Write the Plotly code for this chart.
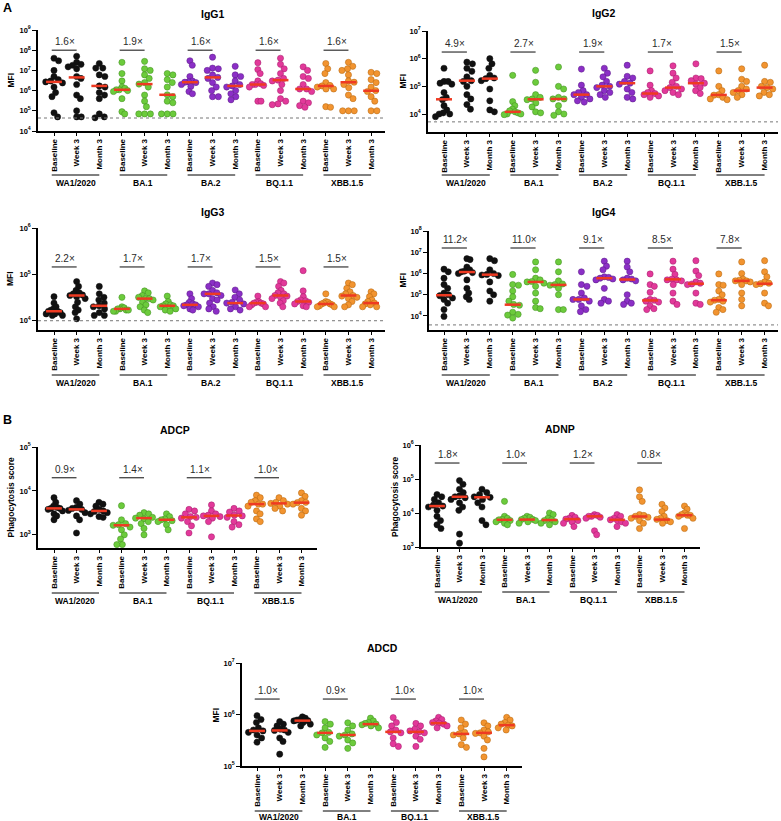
import numpy as np
import plotly.graph_objects as go

W, H = 781, 821
FONT = "Arial, Liberation Sans, Helvetica, sans-serif"

# ---------------- labels ----------------
TIMEPOINTS = ["Baseline", "Week 3", "Month 3"]
IGG_VARIANTS = ["WA1/2020", "BA.1", "BA.2", "BQ.1.1", "XBB.1.5"]
FUNC_VARIANTS = ["WA1/2020", "BA.1", "BQ.1.1", "XBB.1.5"]
IGG_COLORS = ["#111111", "#6CCB3C", "#8B2FC6", "#E2399A", "#F29430"]
IGG_EDGES = ["#111111", "#3F8A1E", "#5A1A85", "#A21F6B", "#B0640F"]
FUNC_COLORS = ["#111111", "#6CCB3C", "#E2399A", "#F29430"]
FUNC_EDGES = ["#111111", "#3F8A1E", "#A21F6B", "#B0640F"]

# ---------------- IgG1 (MFI) [baseline, week3, month3] ----------------
IGG1_WA1 = [[4e7, 3e7, 1e7, 5e6, 3.5e6, 3e6, 2.7e6, 2.4e6, 1.5e6, 8e5, 5e5, 8e4, 5e4],
            [5e7, 2.5e7, 2e7, 1.8e7, 1.5e7, 1.2e7, 5e6, 4e6, 2e6, 6e5, 4e5, 1e5, 5e4, 5e4],
            [2.2e7, 1.3e7, 1.3e7, 6e6, 5e6, 1.7e6, 1.5e6, 8e5, 6e5, 4e5, 7e4, 5e4, 4.5e4]]
IGG1_BA1 = [[2.5e7, 7e6, 3e6, 1.5e6, 1.3e6, 1.1e6, 1.1e6, 1e6, 9e5, 4e5, 9e4, 7e4],
            [2.8e7, 1.2e7, 1e7, 6e6, 4e6, 2.5e6, 2.1e6, 1.5e6, 6e5, 3e5, 1.6e5, 7e4, 7e4, 7e4],
            [7e6, 6e6, 3.5e6, 2.5e6, 1.5e6, 6.2e5, 5e5, 3e5, 2.5e5, 7e4, 7e4, 7e4]]
IGG1_BA2 = [[3e7, 1.8e7, 5e6, 3e6, 2.7e6, 2.6e6, 2.5e6, 2e6, 1.6e6, 9e5, 7e5],
            [4.5e7, 1.3e7, 1.2e7, 1e7, 6e6, 4.5e6, 4e6, 2.5e6, 1.5e6, 1e6, 5e5, 5e5],
            [1.6e7, 6e6, 5e6, 3e6, 2e6, 1.7e6, 1.5e6, 1e6, 7e5, 5e5, 3.5e5]]
IGG1_BQ = [[2.4e7, 1.1e7, 7e6, 3e6, 2.2e6, 2e6, 2e6, 1.8e6, 1.5e6, 3e5, 3e5],
           [4e7, 2e7, 1.2e7, 7e6, 4e6, 3.3e6, 3e6, 2e6, 1e6, 4e5, 3e5, 2.2e5, 2e5],
           [1.5e7, 1e7, 5e6, 4e6, 2e6, 1.2e6, 1.2e6, 9e5, 3e5, 2.5e5, 1.8e5, 1.5e5]]
IGG1_XBB = [[2.2e7, 1.2e7, 7e6, 2.5e6, 1.8e6, 1.7e6, 1.5e6, 1.2e6, 1.2e6, 1.6e5, 1.5e5],
            [2.5e7, 1.6e7, 1.2e7, 1e7, 6e6, 3e6, 2.6e6, 2e6, 1.4e6, 6e5, 4e5, 1e5, 1e5, 1e5],
            [8e6, 7e6, 3.5e6, 2.5e6, 1.5e6, 1e6, 9e5, 5e5, 3e5, 1e5, 1e5]]
IGG1_MEDIANS = [[2.7e6, 4.5e6, 1.7e6], [1.1e6, 2.1e6, 6.2e5], [2.6e6, 4.5e6, 1.7e6],
                [2e6, 3.3e6, 1.2e6], [1.7e6, 2.6e6, 9.8e5]]
IGG1_FOLD = ["1.6×", "1.9×", "1.6×", "1.6×", "1.6×"]

# ---------------- IgG2 ----------------
IGG2_WA1 = [[4.5e5, 1.5e5, 1.5e5, 1.3e5, 1.2e5, 6e4, 4e4, 3.3e4, 2e4, 1.4e4, 1.1e4, 1e4, 1e4, 8e3],
            [7.5e5, 6.5e5, 4.5e5, 3.5e5, 2.2e5, 1.6e5, 1.5e5, 1e5, 5e4, 3.5e4, 2.2e4, 1.5e4],
            [1e6, 6.5e5, 4.5e5, 2.5e5, 2e5, 1.9e5, 1.6e5, 8e4, 3e4, 1.4e4, 1.2e4]]
IGG2_BA1 = [[2.5e5, 2.8e4, 2e4, 1.5e4, 1.3e4, 1.2e4, 1.1e4, 1e4, 1e4, 9.5e3],
            [3.8e5, 1.4e5, 5e4, 4e4, 3.5e4, 3.3e4, 2.5e4, 1.8e4, 1.2e4, 1.1e4],
            [5e5, 1e5, 8e4, 4e4, 3.5e4, 3.5e4, 2e4, 1.2e4, 1e4, 9e3]]
IGG2_BA2 = [[4.2e5, 1.1e5, 7e4, 6e4, 5e4, 5e4, 4e4, 3.5e4, 3e4, 2.7e4],
            [4.5e5, 3e5, 2.2e5, 1.5e5, 1.1e5, 1e5, 9e4, 7e4, 6e4, 5e4, 4e4],
            [5.8e5, 2.3e5, 2e5, 1.5e5, 1.3e5, 1.2e5, 8e4, 6e4, 4e4, 3.5e4]]
IGG2_BQ = [[3.6e5, 1.1e5, 7e4, 6e4, 5.5e4, 5e4, 4.5e4, 4e4],
           [5.5e5, 3e5, 2e5, 1.4e5, 1e5, 9e4, 8e4, 7e4, 6e4, 5e4],
           [6.5e5, 2e5, 1.9e5, 1.6e5, 1.3e5, 1.2e5, 9e4, 7e4, 5.5e4]]
IGG2_XBB = [[3.6e5, 1e5, 7e4, 5e4, 4.8e4, 4e4, 3.5e4, 3.3e4],
            [4.3e5, 1.8e5, 1.5e5, 1e5, 8e4, 7e4, 6e4, 5e4, 4e4],
            [5.8e5, 1.5e5, 1.4e5, 1e5, 9e4, 8e4, 6e4, 5e4, 4.5e4]]
IGG2_MEDIANS = [[3.4e4, 1.6e5, 1.9e5], [1.2e4, 3.4e4, 3.5e4], [5e4, 1e5, 1.3e5],
                [5.5e4, 9e4, 1.3e5], [4.9e4, 7e4, 9e4]]
IGG2_FOLD = ["4.9×", "2.7×", "1.9×", "1.7×", "1.5×"]

# ---------------- IgG3 ----------------
IGG3_WA1 = [[3.3e4, 2.4e4, 2e4, 1.8e4, 1.7e4, 1.6e4, 1.6e4, 1.5e4, 1.4e4, 1.4e4, 1.3e4, 1.3e4],
            [7e4, 5.5e4, 4.5e4, 4e4, 3.8e4, 3.6e4, 3.5e4, 3.3e4, 3e4, 2.5e4, 2e4, 1.7e4, 1.5e4, 1.1e4],
            [5.5e4, 3.8e4, 3.2e4, 2.8e4, 2.4e4, 2.1e4, 2e4, 1.8e4, 1.5e4, 1.3e4, 1.3e4]]
IGG3_BA1 = [[3.2e4, 2e4, 1.9e4, 1.8e4, 1.8e4, 1.7e4, 1.7e4, 1.6e4, 1.6e4],
            [4.4e4, 4e4, 3.5e4, 3.2e4, 3e4, 3e4, 2.8e4, 2.5e4, 2.2e4, 2e4, 1.7e4, 1.5e4],
            [3.4e4, 2.6e4, 2.3e4, 2.2e4, 2.1e4, 2.1e4, 2e4, 1.9e4, 1.8e4, 1.7e4, 1.6e4]]
IGG3_BA2 = [[3.8e4, 3e4, 2.5e4, 2.3e4, 2.2e4, 2.2e4, 2.1e4, 2e4, 1.8e4, 1.7e4],
            [6.5e4, 6e4, 5.5e4, 4.5e4, 4e4, 3.8e4, 3.8e4, 3.5e4, 3e4, 2.8e4, 2.4e4, 2e4, 1.8e4, 1.6e4],
            [4.6e4, 3.8e4, 3.2e4, 2.8e4, 2.5e4, 2.4e4, 2.3e4, 2e4, 1.8e4, 1.7e4]]
IGG3_BQ = [[3.4e4, 2.6e4, 2.5e4, 2.4e4, 2.4e4, 2.3e4, 2.2e4, 2e4, 2e4],
           [7e4, 6.5e4, 5.5e4, 4.5e4, 4e4, 3.8e4, 3.5e4, 3.4e4, 3.2e4, 3e4, 2.7e4, 2.4e4, 2e4],
           [1.2e5, 4.4e4, 3.3e4, 2.8e4, 2.7e4, 2.6e4, 2.5e4, 2.3e4, 2.1e4, 2e4]]
IGG3_XBB = [[3.8e4, 2.6e4, 2.5e4, 2.4e4, 2.3e4, 2.3e4, 2.2e4, 2.1e4, 2e4, 2e4],
            [6.5e4, 6e4, 5e4, 4.2e4, 3.8e4, 3.5e4, 3.4e4, 3.2e4, 3e4, 2.6e4, 2.2e4, 2e4],
            [4.2e4, 3.8e4, 3.3e4, 2.8e4, 2.6e4, 2.4e4, 2.3e4, 2.2e4, 2e4, 2e4]]
IGG3_MEDIANS = [[1.6e4, 3.5e4, 2.1e4], [1.8e4, 3e4, 2.1e4], [2.2e4, 3.8e4, 2.4e4],
                [2.4e4, 3.5e4, 2.6e4], [2.3e4, 3.5e4, 2.4e4]]
IGG3_FOLD = ["2.2×", "1.7×", "1.7×", "1.5×", "1.5×"]

# ---------------- IgG4 ----------------
IGG4_WA1 = [[1.6e6, 1.2e6, 6e5, 3e5, 2e5, 1.2e5, 1e5, 9e4, 7e4, 6e4, 4e4, 2e4, 9.5e3],
            [5e6, 4.5e6, 2e6, 1.5e6, 1.3e6, 1.2e6, 1.1e6, 1e6, 5e5, 2e5, 1.2e5, 8e4, 6e4],
            [5e6, 4e6, 1.5e6, 1e6, 9e5, 8.5e5, 8e5, 4e5, 1.5e5, 1e5, 5e4]]
IGG4_BA1 = [[9e5, 3e5, 2.8e5, 1.5e5, 8e4, 5e4, 3.5e4, 3.2e4, 1.5e4, 1.2e4, 1.1e4, 8e3],
            [3.5e6, 1.5e6, 6e5, 5e5, 4.2e5, 4e5, 3.5e5, 2.5e5, 1.2e5, 5e4, 2.5e4, 2.2e4],
            [3.5e6, 1.2e6, 4.5e5, 3.2e5, 3e5, 2.8e5, 2e5, 1e5, 2e4, 2e4]]
IGG4_BA2 = [[1.2e6, 3e5, 2.5e5, 1.2e5, 7e4, 6e4, 6e4, 5e4, 3e4, 2e4, 1.6e4],
            [3.8e6, 2.2e6, 1.5e6, 7e5, 6.5e5, 6e5, 5.5e5, 5e5, 2e5, 6e4, 5e4, 4e4],
            [3.8e6, 2e6, 1.2e6, 6e5, 5.5e5, 5e5, 4.5e5, 1e5, 5e4, 4e4, 3.5e4]]
IGG4_BQ = [[9.5e5, 3e5, 2.5e5, 1.3e5, 6e4, 5.5e4, 5e4, 4.5e4, 3e4, 2.2e4, 2e4],
           [3.8e6, 1.6e6, 9e5, 5.5e5, 5e5, 5e5, 4.5e5, 3e5, 1.2e5, 5e4, 3.5e4],
           [4e6, 1.3e6, 8e5, 4e5, 3.5e5, 3.2e5, 3e5, 1.2e5, 4e4, 3.5e4]]
IGG4_XBB = [[9.5e5, 3e5, 2.8e5, 1.5e5, 1e5, 6e4, 5.5e4, 5e4, 4.5e4, 2.5e4, 2e4, 1.5e4],
            [3.5e6, 1e6, 5.5e5, 4.8e5, 4.5e5, 4.5e5, 4e5, 3e5, 1.2e5, 6e4, 3e4],
            [4e6, 1.2e6, 7e5, 4e5, 3.5e5, 3.3e5, 3e5, 1.2e5, 4e4, 3e4]]
IGG4_MEDIANS = [[9.5e4, 1.17e6, 8.8e5], [3.4e4, 4e5, 2.9e5], [6e4, 6e5, 5.2e5],
                [5.4e4, 5.3e5, 3.3e5], [5.5e4, 4.5e5, 3.3e5]]
IGG4_FOLD = ["11.2×", "11.0×", "9.1×", "8.5×", "7.8×"]

# ---------------- ADCP (phagocytosis score) ----------------
ADCP_WA1 = [[7e3, 5.5e3, 4.5e3, 4.2e3, 4e3, 4e3, 3.8e3, 3.5e3, 3e3, 2.7e3, 2.2e3],
            [6e3, 5e3, 4.2e3, 4e3, 3.8e3, 3.6e3, 3.2e3, 2.7e3, 2.2e3, 1.1e3],
            [5.5e3, 5e3, 4.5e3, 3.8e3, 3.5e3, 3.4e3, 3.2e3, 3e3, 2.6e3, 2.5e3]]
ADCP_BA1 = [[4.6e3, 2.2e3, 1.8e3, 1.7e3, 1.65e3, 1.5e3, 1.3e3, 1e3, 8e2, 6e2, 6e2],
            [3.2e3, 3e3, 2.8e3, 2.5e3, 2.4e3, 2.3e3, 2e3, 1.8e3, 1.4e3, 1e3],
            [3e3, 2.6e3, 2.3e3, 2.2e3, 2.1e3, 2e3, 1.7e3, 1.3e3]]
ADCP_BQ = [[3.8e3, 3.5e3, 3e3, 2.6e3, 2.5e3, 2.4e3, 2e3, 1.6e3, 1.1e3],
           [4.8e3, 3.5e3, 3e3, 2.8e3, 2.7e3, 2.6e3, 2.4e3, 2e3, 9e2],
           [4e3, 3.5e3, 3.3e3, 2.8e3, 2.7e3, 2.5e3, 2e3, 1.7e3, 1.5e3]]
ADCP_XBB = [[8e3, 7e3, 6e3, 5.5e3, 5e3, 5e3, 4.5e3, 3.5e3, 3e3, 2.3e3, 2e3],
            [7e3, 6e3, 5.5e3, 5.2e3, 5e3, 4.5e3, 4e3, 3.5e3],
            [9e3, 7.5e3, 6e3, 5.5e3, 5.4e3, 5e3, 4e3, 3.5e3, 2.8e3]]
ADCP_MEDIANS = [[4e3, 3.8e3, 3.5e3], [1.65e3, 2.4e3, 2.2e3], [2.5e3, 2.7e3, 2.75e3], [5e3, 5.2e3, 5.4e3]]
ADCP_FOLD = ["0.9×", "1.4×", "1.1×", "1.0×"]

# ---------------- ADNP ----------------
ADNP_WA1 = [[3.5e4, 3e4, 2.5e4, 2e4, 1.7e4, 1.6e4, 1.5e4, 1.2e4, 8e3, 6e3, 4.5e3, 3.5e3],
            [9e4, 7e4, 5e4, 4e4, 3.2e4, 3e4, 2.8e4, 2.5e4, 2e4, 1.5e4, 1.2e4, 2.4e3, 1.3e3],
            [5e4, 4e4, 3.5e4, 3e4, 2.9e4, 2.5e4, 2e4, 1.5e4, 6e3, 4.5e3]]
ADNP_BA1 = [[2.2e4, 8e3, 7e3, 6.5e3, 6.3e3, 6e3, 5.5e3, 5e3, 4.5e3],
            [8e3, 7.5e3, 7e3, 6.5e3, 6.4e3, 6e3, 5.5e3, 5e3],
            [1e4, 9e3, 7e3, 6.3e3, 6e3, 5.5e3, 5e3, 4.5e3]]
ADNP_BQ = [[8.5e3, 7.5e3, 7e3, 6.6e3, 6e3, 5.5e3, 5e3, 4e3],
           [9e3, 8.5e3, 8e3, 8e3, 7.5e3, 7e3, 3e3, 2.3e3],
           [9e3, 8e3, 7e3, 6.3e3, 6e3, 5.5e3, 5e3, 4e3]]
ADNP_XBB = [[4.8e4, 3e4, 2.2e4, 9e3, 8.5e3, 8e3, 7.5e3, 7e3, 6e3, 5e3, 3.5e3],
            [1.8e4, 1.4e4, 1.1e4, 8e3, 7e3, 6.5e3, 6e3, 5.5e3, 5e3],
            [1.6e4, 1.3e4, 1e4, 9e3, 8.6e3, 8.5e3, 8e3, 7e3, 3.5e3]]
ADNP_MEDIANS = [[1.6e4, 3e4, 2.9e4], [6.3e3, 6.4e3, 6.2e3], [6.6e3, 8e3, 6.3e3], [7.9e3, 6.4e3, 8.6e3]]
ADNP_FOLD = ["1.8×", "1.0×", "1.2×", "0.8×"]

# ---------------- ADCD (MFI) ----------------
ADCD_WA1 = [[9.5e5, 8e5, 7e5, 5.5e5, 5e5, 4.8e5, 4.5e5, 4e5, 3.5e5, 2.9e5],
            [7.3e5, 6.5e5, 6e5, 5.2e5, 5e5, 4.9e5, 4.5e5, 3.5e5, 3e5, 1.7e5],
            [9e5, 8.5e5, 8e5, 7.8e5, 7.6e5, 7.5e5, 7e5, 6.5e5, 6e5]]
ADCD_BA1 = [[7.3e5, 6.5e5, 5.5e5, 4.5e5, 4.4e5, 4e5, 3.5e5, 3e5, 2.3e5],
            [6.9e5, 6e5, 5e5, 4.2e5, 4e5, 3.8e5, 3.2e5, 2.8e5, 2.2e5],
            [8.5e5, 7.5e5, 7e5, 6.7e5, 6.5e5, 6.3e5, 6e5, 5.5e5]]
ADCD_BQ = [[8.7e5, 7e5, 6e5, 5e5, 4.6e5, 4.4e5, 3.5e5, 2.7e5, 2.4e5],
           [6.7e5, 6e5, 5.2e5, 4.8e5, 4.6e5, 4.4e5, 3.8e5, 3.3e5, 2.4e5],
           [8.8e5, 8e5, 7.5e5, 7e5, 6.8e5, 6.5e5, 6e5, 5.5e5]]
ADCD_XBB = [[7.8e5, 6.5e5, 5.5e5, 4.5e5, 4.2e5, 4e5, 3.5e5, 2.6e5, 2.3e5],
            [6.9e5, 6e5, 5e5, 4.6e5, 4.4e5, 4.3e5, 3.8e5, 3.2e5, 2.2e5, 1.5e5],
            [8.8e5, 7.8e5, 7e5, 6.5e5, 6.2e5, 6e5, 5.5e5, 5e5]]
ADCD_MEDIANS = [[4.8e5, 4.9e5, 7.6e5], [4.4e5, 4e5, 6.5e5], [4.6e5, 4.6e5, 6.8e5], [4.2e5, 4.4e5, 6.2e5]]
ADCD_FOLD = ["1.0×", "0.9×", "1.0×", "1.0×"]

# limits of detection (dotted lines)
IGG1_LOD = 4.4e4
IGG2_LOD = 5.2e3
IGG3_LOD = 1.0e4
IGG4_LOD = 3.8e3

# ---------------- panel geometry (pixels) ----------------
PANELS = [
    dict(title="IgG1", groups=[IGG1_WA1, IGG1_BA1, IGG1_BA2, IGG1_BQ, IGG1_XBB], med=IGG1_MEDIANS,
         fold=IGG1_FOLD, variants=IGG_VARIANTS, colors=IGG_COLORS, edges=IGG_EDGES, lod=IGG1_LOD,
         ytitle="MFI", ax=38, xe=385, c0=54, cs=22.65, yt=30, yb=131, yr=[4, 9], fold_y=8.0,
         tpos=(212, 14), ytx=10, gl=175, gt=183),
    dict(title="IgG2", groups=[IGG2_WA1, IGG2_BA1, IGG2_BA2, IGG2_BQ, IGG2_XBB], med=IGG2_MEDIANS,
         fold=IGG2_FOLD, variants=IGG_VARIANTS, colors=IGG_COLORS, edges=IGG_EDGES, lod=IGG2_LOD,
         ytitle="MFI", ax=428, xe=778, c0=444, cs=22.9, yt=31, yb=132, yr=[3.35, 7], fold_y=6.24,
         tpos=(603, 13), ytx=402, gl=175, gt=183),
    dict(title="IgG3", groups=[IGG3_WA1, IGG3_BA1, IGG3_BA2, IGG3_BQ, IGG3_XBB], med=IGG3_MEDIANS,
         fold=IGG3_FOLD, variants=IGG_VARIANTS, colors=IGG_COLORS, edges=IGG_EDGES, lod=IGG3_LOD,
         ytitle="MFI", ax=38, xe=385, c0=54, cs=22.65, yt=228, yb=330, yr=[3.8, 6], fold_y=5.16,
         tpos=(212, 212), ytx=10, gl=375, gt=383),
    dict(title="IgG4", groups=[IGG4_WA1, IGG4_BA1, IGG4_BA2, IGG4_BQ, IGG4_XBB], med=IGG4_MEDIANS,
         fold=IGG4_FOLD, variants=IGG_VARIANTS, colors=IGG_COLORS, edges=IGG_EDGES, lod=IGG4_LOD,
         ytitle="MFI", ax=429, xe=778, c0=444, cs=22.9, yt=231, yb=330, yr=[3.34, 8], fold_y=7.2,
         tpos=(603, 212), ytx=402, gl=375, gt=383),
    dict(title="ADCP", groups=[ADCP_WA1, ADCP_BA1, ADCP_BQ, ADCP_XBB], med=ADCP_MEDIANS,
         fold=ADCP_FOLD, variants=FUNC_VARIANTS, colors=FUNC_COLORS, edges=FUNC_EDGES, lod=None,
         ytitle="Phagocytosis score", ax=38, xe=317, c0=54, cs=22.5, yt=447, yb=548, yr=[2.7, 5],
         fold_y=4.3, tpos=(175, 430), ytx=10, gl=593, gt=601),
    dict(title="ADNP", groups=[ADNP_WA1, ADNP_BA1, ADNP_BQ, ADNP_XBB], med=ADNP_MEDIANS,
         fold=ADNP_FOLD, variants=FUNC_VARIANTS, colors=FUNC_COLORS, edges=FUNC_EDGES, lod=None,
         ytitle="Phagocytosis score", ax=421, xe=700, c0=437, cs=22.5, yt=445, yb=547, yr=[3, 6],
         fold_y=5.47, tpos=(560, 429), ytx=395, gl=592, gt=600),
    dict(title="ADCD", groups=[ADCD_WA1, ADCD_BA1, ADCD_BQ, ADCD_XBB], med=ADCD_MEDIANS,
         fold=ADCD_FOLD, variants=FUNC_VARIANTS, colors=FUNC_COLORS, edges=FUNC_EDGES, lod=None,
         ytitle="MFI", ax=242, xe=522, c0=257, cs=22.7, yt=663, yb=766, yr=[5, 7], fold_y=6.3,
         tpos=(382, 648), ytx=215, gl=811, gt=817),
]


def beeswarm(vals, ppd, d=5.8, maxw=8.5):
    """Deterministic beeswarm offsets (in pixels) from values."""
    ys = np.log10(np.asarray(vals, dtype=float)) * ppd
    order = np.argsort(-ys, kind="stable")
    placed = []
    xs = np.zeros(len(ys))
    for i in order:
        y = ys[i]
        cands = [0.0]
        for (pxj, pyj) in placed:
            dy = abs(y - pyj)
            if dy < d:
                dx = np.sqrt(d * d - dy * dy)
                cands += [pxj + dx, pxj - dx]
        cands.sort(key=lambda c: (round(abs(c), 6), -c))
        for c in cands:
            if all((c - pxj) ** 2 + (y - pyj) ** 2 >= d * d - 1e-6 for pxj, pyj in placed):
                xs[i] = c
                placed.append((c, y))
                break
    m = np.max(np.abs(xs)) if len(xs) else 0
    if m > maxw:
        xs = xs * maxw / m
    return xs


fig = go.Figure()
annotations = []
shapes = []
layout_axes = {}

for k, p in enumerate(PANELS):
    n = k + 1
    xa = "x" if n == 1 else f"x{n}"
    ya = "y" if n == 1 else f"y{n}"
    xkey = "xaxis" if n == 1 else f"xaxis{n}"
    ykey = "yaxis" if n == 1 else f"yaxis{n}"
    cs = p["cs"]
    xmin = -(p["c0"] - p["ax"]) / cs
    xmax = xmin + (p["xe"] - p["ax"]) / cs
    ppd = (p["yb"] - p["yt"]) / (p["yr"][1] - p["yr"][0])
    ncat = 3 * len(p["groups"])

    # points
    for g, grp in enumerate(p["groups"]):
        xs_all, ys_all = [], []
        for t, vals in enumerate(grp):
            off = beeswarm(vals, ppd)
            cat = 3 * g + t
            xs_all += list(cat + off / cs)
            ys_all += list(vals)
        fig.add_trace(go.Scatter(
            x=xs_all, y=ys_all, mode="markers", xaxis=xa, yaxis=ya,
            marker=dict(size=6.2, color=p["colors"][g],
                        line=dict(width=0.5, color=p["edges"][g])),
            hoverinfo="skip"))

    # medians
    mx, my = [], []
    for g, meds in enumerate(p["med"]):
        for t, m in enumerate(meds):
            cat = 3 * g + t
            mx += [cat - 0.35, cat + 0.35, None]
            my += [m, m, None]
    fig.add_trace(go.Scatter(x=mx, y=my, mode="lines", xaxis=xa, yaxis=ya,
                             line=dict(color="#EE3A22", width=2.5), hoverinfo="skip"))

    # fold-change bars
    fx, fy = [], []
    fyv = 10 ** p["fold_y"]
    for g, txt in enumerate(p["fold"]):
        fx += [3 * g - 0.1, 3 * g + 1.0, None]
        fy += [fyv, fyv, None]
        annotations.append(dict(x=3 * g + 0.5, y=p["fold_y"], xref=xa, yref=ya, text=txt,
                                showarrow=False, yanchor="bottom", yshift=1,
                                font=dict(size=10, color="#2a2a2a", family=FONT)))
    fig.add_trace(go.Scatter(x=fx, y=fy, mode="lines", xaxis=xa, yaxis=ya,
                             line=dict(color="#333333", width=1.2), hoverinfo="skip"))

    # LOD dotted line
    if p["lod"] is not None:
        fig.add_trace(go.Scatter(x=[xmin, xmax], y=[p["lod"], p["lod"]], mode="lines",
                                 xaxis=xa, yaxis=ya,
                                 line=dict(color="#777777", width=1, dash="dot"),
                                 hoverinfo="skip"))

    # axes
    decades = list(range(int(np.ceil(p["yr"][0] - 1e-9)), int(np.floor(p["yr"][1] + 1e-9)) + 1))
    layout_axes[xkey] = dict(
        domain=[p["ax"] / W, p["xe"] / W], range=[xmin, xmax], anchor=ya,
        tickmode="array", tickvals=list(range(ncat)), ticktext=TIMEPOINTS * len(p["groups"]),
        tickangle=-90, ticks="outside", ticklen=3, tickwidth=1, tickcolor="black",
        showline=True, linecolor="black", linewidth=1.5, showgrid=False, zeroline=False,
        tickfont=dict(size=8, family=FONT, color="black", weight="bold"),
        automargin=False, fixedrange=True)
    layout_axes[ykey] = dict(
        type="log", domain=[1 - p["yb"] / H, 1 - p["yt"] / H], range=p["yr"], anchor=xa,
        tickmode="array", tickvals=[10 ** d for d in decades],
        ticktext=[f"10<sup>{d}</sup>" for d in decades],
        ticks="outside", ticklen=4, tickwidth=1, tickcolor="black",
        showline=True, linecolor="black", linewidth=1.5, showgrid=False, zeroline=False,
        tickfont=dict(size=7.5, family=FONT, color="black", weight="bold"),
        automargin=False, fixedrange=True)

    # title
    annotations.append(dict(x=p["tpos"][0] / W, y=1 - p["tpos"][1] / H, xref="paper", yref="paper",
                            text=f"<b>{p['title']}</b>", showarrow=False,
                            xanchor="center", yanchor="middle",
                            font=dict(size=10.5, family=FONT, color="black")))
    # y title
    annotations.append(dict(x=p["ytx"] / W, y=1 - (p["yt"] + p["yb"]) / 2 / H,
                            xref="paper", yref="paper", text=f"<b>{p['ytitle']}</b>",
                            showarrow=False, textangle=-90, xanchor="center", yanchor="middle",
                            font=dict(size=8.5, family=FONT, color="black")))
    # group labels and lines
    for g, v in enumerate(p["variants"]):
        shapes.append(dict(type="line", xref=xa, yref="paper", x0=3 * g - 0.1, x1=3 * g + 2.0,
                           y0=1 - p["gl"] / H, y1=1 - p["gl"] / H,
                           line=dict(color="black", width=1)))
        annotations.append(dict(x=3 * g + 0.95, y=1 - p["gt"] / H, xref=xa, yref="paper",
                                text=f"<b>{v}</b>", showarrow=False,
                                xanchor="center", yanchor="middle",
                                font=dict(size=8.5, family=FONT, color="black")))

# panel letters
for letter, (lx, ly) in [("A", (7, 8)), ("B", (7, 420))]:
    annotations.append(dict(x=lx / W, y=1 - ly / H, xref="paper", yref="paper",
                            text=f"<b>{letter}</b>", showarrow=False,
                            xanchor="center", yanchor="middle",
                            font=dict(size=12.5, family=FONT, color="black")))

fig.update_layout(
    width=W, height=H, margin=dict(l=0, r=0, t=0, b=0),
    paper_bgcolor="white", plot_bgcolor="white", showlegend=False,
    annotations=annotations, shapes=shapes, font=dict(family=FONT),
    **layout_axes)

fig.write_html("out.html", config={"displayModeBar": False},
               post_script="document.body.style.margin='0';document.body.style.overflow='hidden';")
